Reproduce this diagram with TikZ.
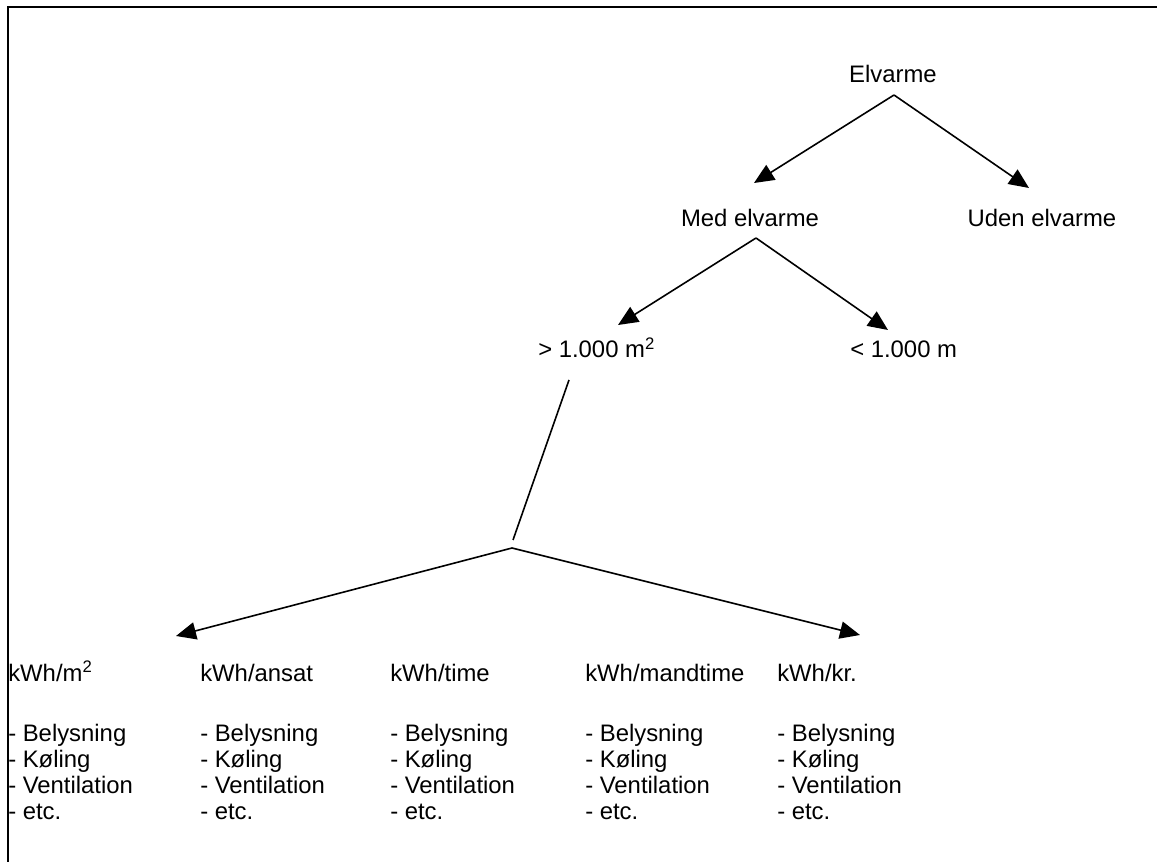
\documentclass[tikz,border=0pt]{standalone}
\usepackage{fontspec}
\setmainfont{Liberation Sans}
\usetikzlibrary{arrows.meta,calc}
\begin{document}
\begin{tikzpicture}[x=0.75pt,y=-0.75pt,
  lbl/.style={inner sep=0pt,font=\fontsize{17.9}{20}\selectfont},
  arr/.style={line width=1.2pt,-{Triangle[length=15pt,width=13pt]}},
  ln/.style={line width=1.2pt},
  frame/.style={line width=1.5pt}]
\useasboundingbox (0,0) rectangle (1157,862);
\draw[frame] (8,862) -- (8,7.5) -- (1157,7.5);
% nodes
\node[lbl,anchor=base] (elv) at (893,83) {Elvarme};
\node[lbl,anchor=base] (med) at (750,227) {Med elvarme};
\node[lbl,anchor=base] (uden) at (1042,227) {Uden elvarme};
\node[lbl,anchor=base west] (gt) at (538,358) {> 1.000 m\textsuperscript{2}};
\node[lbl,anchor=base west] (lt) at (850,358) {< 1.000 m};
\node[lbl,anchor=base west] (h1) at (8,681) {kWh/m\textsuperscript{2}};
\node[lbl,anchor=base west] (h2) at (200,681) {kWh/ansat};
\node[lbl,anchor=base west] (h3) at (390,681) {kWh/time};
\node[lbl,anchor=base west] (h4) at (585,681) {kWh/mandtime};
\node[lbl,anchor=base west] (h5) at (777,681) {kWh/kr.};
\foreach \x [count=\i] in {8,200,390,585,777} {
  \foreach \t [count=\j] in {Belysning,Køling,Ventilation,etc.} {
    \node[lbl,anchor=base west] (l\i-\j) at (\x,{741+26*(\j-1)}) {- \t};
  }
}
% connector points
\coordinate (e0) at ($(elv.base)+(1,12)$);
\coordinate (tmed) at ($(med.base)+(4,-44)$);
\coordinate (tuden) at ($(uden.base)+(-13,-39)$);
\coordinate (m0) at ($(med.base)+(6,11)$);
\coordinate (tgt) at ($(gt.base west)+(80,-33)$);
\coordinate (tlt) at ($(lt.base west)+(38,-28)$);
\coordinate (g0) at ($(gt.base west)+(31,22)$);
\coordinate (g1) at ($(h2.base west)+(313,-141)$);
\coordinate (ap) at ($(h2.base west)+(312,-133)$);
\coordinate (th1) at ($(h2.base west)+(-24,-45)$);
\coordinate (th5) at ($(h5.base west)+(83,-46)$);
% connectors
\draw[arr] (e0) -- (tmed);
\draw[arr] (e0) -- (tuden);
\draw[arr] (m0) -- (tgt);
\draw[arr] (m0) -- (tlt);
\draw[ln] (g0) -- (g1);
\draw[arr] (ap) -- (th1);
\draw[arr] (ap) -- (th5);
\end{tikzpicture}
\end{document}
